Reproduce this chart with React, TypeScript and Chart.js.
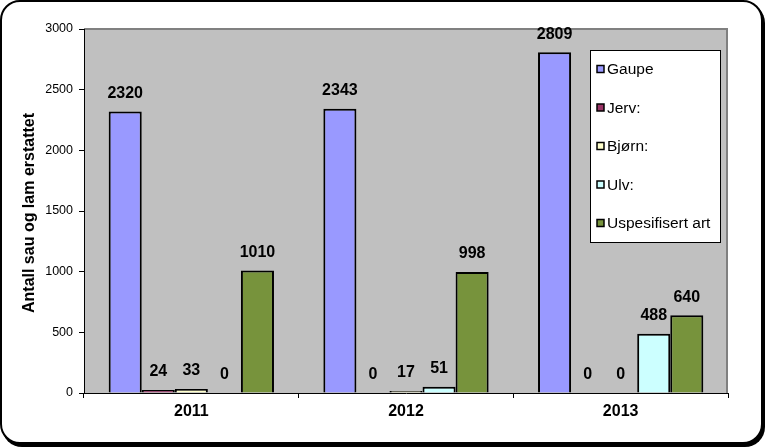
import React, { useEffect, useRef } from "react";
import { Chart, registerables } from "chart.js";

Chart.register(...registerables);

const categories = ["2011", "2012", "2013"];
const seriesNames = ["Gaupe", "Jerv:", "Bjørn:", "Ulv:", "Uspesifisert art"];
const gaupe = [2320, 2343, 2809];
const jerv = [24, 0, 0];
const bjorn = [33, 17, 0];
const ulv = [0, 51, 488];
const uspesifisert = [1010, 998, 640];
const seriesColors = ["#9999ff", "#993366", "#ffffcc", "#ccffff", "#77933c"];
const yTitle = "Antall sau og lam erstattet";

const FONT = "Arial, 'Liberation Sans', sans-serif";

const decorPlugin = {
  id: "decor",
  beforeDraw(chart: any) {
    const { ctx, chartArea } = chart;
    ctx.save();
    ctx.fillStyle = "#c0c0c0";
    ctx.fillRect(chartArea.left, chartArea.top, chartArea.right - chartArea.left, chartArea.bottom - chartArea.top);
    ctx.strokeStyle = "#808080";
    ctx.lineWidth = 2;
    ctx.beginPath();
    ctx.moveTo(chartArea.left, chartArea.top);
    ctx.lineTo(chartArea.right - 1, chartArea.top);
    ctx.lineTo(chartArea.right - 1, chartArea.bottom);
    ctx.stroke();
    ctx.restore();
  },
  afterDraw(chart: any) {
    const { ctx, chartArea } = chart;
    ctx.save();
    // data labels
    ctx.fillStyle = "#000";
    ctx.font = `bold 16px ${FONT}`;
    ctx.textAlign = "center";
    ctx.textBaseline = "middle";
    chart.data.datasets.forEach((ds: any, i: number) => {
      const meta = chart.getDatasetMeta(i);
      meta.data.forEach((bar: any, j: number) => {
        ctx.fillText(String(ds.data[j]), bar.x, bar.y - 18);
      });
    });
    // y title
    ctx.save();
    ctx.translate(30, (chartArea.top + chartArea.bottom) / 2 + 2);
    ctx.rotate(-Math.PI / 2);
    ctx.font = `bold 16px ${FONT}`;
    ctx.fillText(yTitle, 0, 0);
    ctx.restore();
    // legend
    const lx = 590, ly = 50, lw = 130, lh = 192;
    ctx.fillStyle = "#fff";
    ctx.fillRect(lx, ly, lw, lh);
    ctx.strokeStyle = "#000";
    ctx.lineWidth = 1;
    ctx.strokeRect(lx + 0.5, ly + 0.5, lw, lh);
    ctx.font = `15.5px ${FONT}`;
    ctx.textAlign = "left";
    ctx.textBaseline = "middle";
    seriesNames.forEach((name, i) => {
      const cy = 69 + i * 38.5;
      ctx.fillStyle = seriesColors[i];
      ctx.fillRect(597, cy - 3.5, 7, 7);
      ctx.strokeStyle = "#000";
      ctx.lineWidth = 1.5;
      ctx.strokeRect(597, cy - 3.5, 7, 7);
      ctx.fillStyle = "#000";
      ctx.fillText(name, 607, cy + 1);
    });
    ctx.restore();
  },
};

export default function App() {
  const ref = useRef<HTMLCanvasElement | null>(null);
  useEffect(() => {
    document.body.style.margin = "0";
    const seriesData = [gaupe, jerv, bjorn, ulv, uspesifisert];
    const chart = new Chart(ref.current as HTMLCanvasElement, {
      type: "bar",
      data: {
        labels: categories,
        datasets: seriesNames.map((n, i) => ({
          label: n,
          data: seriesData[i],
          backgroundColor: seriesColors[i],
          borderColor: "#000",
          borderWidth: 2,
          categoryPercentage: 0.77,
          barPercentage: 1,
        })),
      },
      options: {
        responsive: false,
        animation: false,
        layout: { padding: { top: 29, right: 37, left: 0, bottom: 0 } },
        plugins: { legend: { display: false }, tooltip: { enabled: false } },
        scales: {
          x: {
            grid: { drawOnChartArea: false, tickLength: 5, color: "#000", offset: true },
            border: { display: true, color: "#000", width: 1 },
            ticks: { color: "#000", font: { family: FONT, size: 16, weight: "bold" }, padding: 4 },
            afterFit: (s: any) => { s.height = 54; },
          },
          y: {
            min: 0,
            max: 3000,
            grid: { drawOnChartArea: false, tickLength: 5, color: "#000" },
            border: { display: true, color: "#000", width: 1 },
            ticks: {
              stepSize: 500,
              color: "#000",
              font: { family: FONT, size: 12.5 },
              padding: 6,
              callback: (v: any) => String(v),
            },
            afterFit: (s: any) => { s.width = 84; },
          },
        },
      },
      plugins: [decorPlugin],
    } as any);
    return () => chart.destroy();
  }, []);
  return (
    <div style={{ position: "absolute", left: 0, top: 0, width: 765, height: 447, background: "#fff" }}>
      <div
        style={{
          position: "absolute",
          left: 0,
          top: 0,
          width: 763,
          height: 444,
          boxSizing: "border-box",
          border: "2px solid #000",
          borderRadius: 20,
          boxShadow: "2px 3px 0 #000",
          background: "#fff",
        }}
      />
      <canvas ref={ref} width={765} height={447} style={{ position: "absolute", left: 0, top: 0 }} />
    </div>
  );
}
